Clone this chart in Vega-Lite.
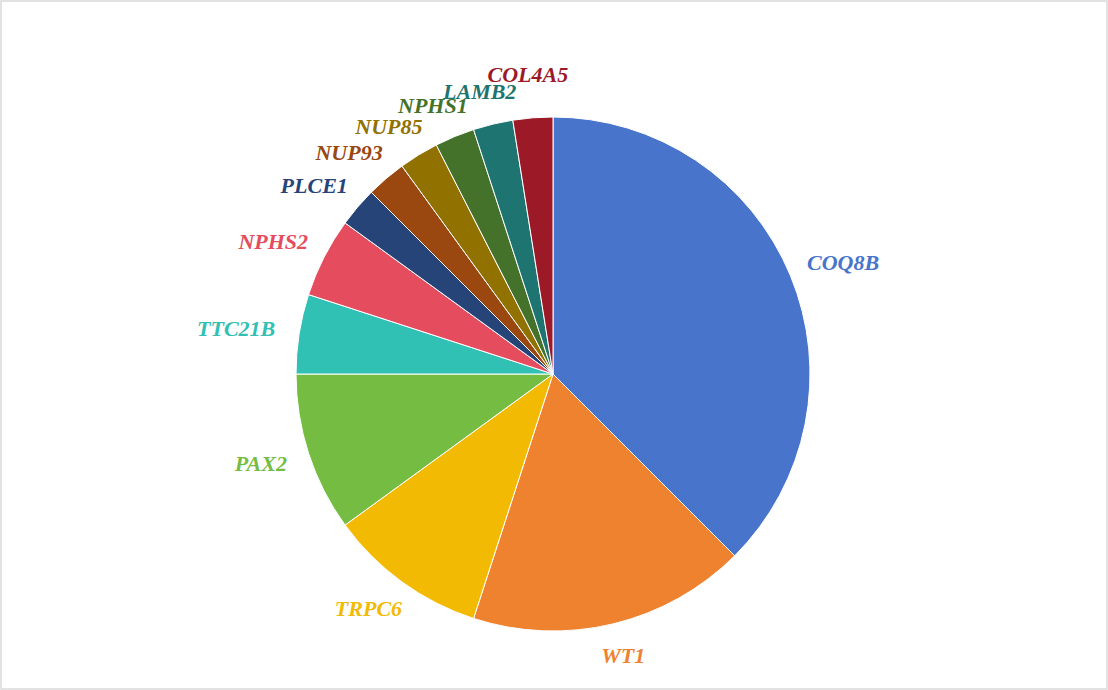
{
  "$schema": "https://vega.github.io/schema/vega-lite/v6.json",
  "width": 1106,
  "height": 688,
  "autosize": "none",
  "padding": 1,
  "background": "white",
  "view": {"stroke": "#d9d9d9", "strokeWidth": 1.5, "fill": "white"},
  "data": {"values": [
    {"gene": "COQ8B", "n": 15, "idx": 1},
    {"gene": "WT1", "n": 7, "idx": 2},
    {"gene": "TRPC6", "n": 4, "idx": 3},
    {"gene": "PAX2", "n": 4, "idx": 4},
    {"gene": "TTC21B", "n": 2, "idx": 5},
    {"gene": "NPHS2", "n": 2, "idx": 6},
    {"gene": "PLCE1", "n": 1, "idx": 7},
    {"gene": "NUP93", "n": 1, "idx": 8},
    {"gene": "NUP85", "n": 1, "idx": 9},
    {"gene": "NPHS1", "n": 1, "idx": 10},
    {"gene": "LAMB2", "n": 1, "idx": 11},
    {"gene": "COL4A5", "n": 1, "idx": 12}
  ]},
  "encoding": {
    "theta": {"field": "n", "type": "quantitative", "stack": true},
    "order": {"field": "idx", "type": "quantitative"},
    "color": {
      "field": "gene", "type": "nominal", "legend": null,
      "scale": {
        "domain": ["COQ8B", "WT1", "TRPC6", "PAX2", "TTC21B", "NPHS2", "PLCE1", "NUP93", "NUP85", "NPHS1", "LAMB2", "COL4A5"],
        "range": ["#4874CB", "#EE822F", "#F2BA02", "#75BD42", "#30C0B4", "#E54C5E", "#264478", "#9A4710", "#917100", "#44722A", "#1E7470", "#9C1A28"]
      }
    }
  },
  "layer": [
    {
      "mark": {"type": "arc", "outerRadius": 257, "stroke": "white", "strokeWidth": 1,
        "x": {"expr": "width/2 - 1"}, "y": {"expr": "height/2 + 29"}}
    },
    {
      "mark": {"type": "text", "radius": 280, "align": "center", "baseline": "middle",
        "font": "Liberation Serif", "fontSize": 22, "fontWeight": "bold", "fontStyle": "italic",
        "x": {"expr": "width/2 - 1"}, "y": {"expr": "height/2 + 29"},
        "dx": {"expr": "6.8 * length(datum.gene) * sin(PI * (datum.n_start + datum.n_end) / 40)"},
        "dy": {"expr": "-10 * cos(PI * (datum.n_start + datum.n_end) / 40) - (datum.n_end == 40 ? 10 : 0)"}},
      "encoding": {"text": {"field": "gene"}}
    }
  ]
}
